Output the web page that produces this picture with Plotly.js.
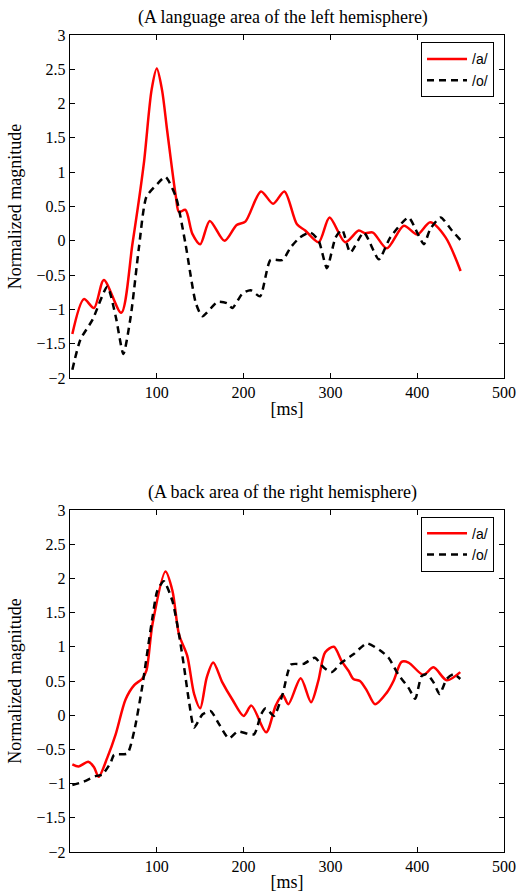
<!DOCTYPE html>
<html>
<head>
<meta charset="utf-8">
<script src="https://cdn.plot.ly/plotly-3.0.1.min.js"></script>
<style>html,body{margin:0;padding:0;background:#fff;}#chart{width:523px;height:892px;}</style>
</head>
<body>
<div id="chart"></div>
<script>
// ---- Data ----
var titleTop = "(A language area of the left hemisphere)";
var titleBottom = "(A back area of the right hemisphere)";
var seriesNames = ["/a/", "/o/"];
var xTicks = [100, 200, 300, 400, 500];
var yTicks = [-2, -1.5, -1, -0.5, 0, 0.5, 1, 1.5, 2, 2.5, 3];

var topA_x = [2.7,16,27.7,39,59,72,85,94,100,106,112,122,125.6,133,141,150,161,178,192,202,220,234,247,261.5,271,286.5,299,317,332.7,340,349,365,384.6,400,415,432.7,450];
var topA_y = [-1.36,-0.85,-0.98,-0.57,-1.05,-0.04,1.12,2.2,2.51,2.2,1.6,0.64,0.42,0.45,0.1,-0.05,0.29,0.0,0.23,0.28,0.72,0.54,0.72,0.24,0.15,-0.02,0.34,-0.02,0.15,0.11,0.12,-0.11,0.22,0.09,0.27,0.05,-0.44];

var topO_x = [2.7,12,26,43,52.6,61.5,70,79.5,88,100.6,110,122,133,145,152.5,170,181,187,198.6,208,219,231,245,254,265,277,286.5,296,306,313.5,323,338.5,355.8,369,390,400,407.7,415,427,440,450];
var topO_y = [-1.88,-1.44,-1.15,-0.67,-1.1,-1.65,-1.1,-0.09,0.64,0.83,0.93,0.64,-0.04,-0.91,-1.1,-0.89,-0.91,-0.98,-0.77,-0.72,-0.81,-0.28,-0.28,-0.1,0.05,0.12,0.0,-0.40,0.05,0.16,-0.17,0.12,-0.27,0.05,0.34,0.12,-0.05,0.17,0.34,0.15,0.01];

var botA_x = [2.7,10,21,27.7,33,43,52.6,64,74,83,88,95,110,118,125.6,135,143,150,157.5,165,175.5,187,200,209,226,237,245,251.5,265.8,277.7,286,294,304,313,320.8,326.5,334,342,351.5,365,372.7,382,390,407,418.8,434,449.6];
var botA_y = [-0.72,-0.75,-0.68,-0.76,-0.90,-0.62,-0.28,0.23,0.44,0.53,0.65,1.33,2.10,1.82,1.18,0.87,0.31,0.10,0.55,0.77,0.48,0.23,-0.01,0.14,-0.25,0.14,0.30,0.16,0.54,0.19,0.50,0.92,1.0,0.79,0.65,0.53,0.50,0.36,0.16,0.33,0.50,0.78,0.77,0.59,0.70,0.51,0.63];

var botO_x = [2.7,8.5,18,29.6,37,47,50.7,66,74,83,95,100.6,108,118,125.6,131,137,143,152.5,162,171.7,183,193,212,220,225.5,235,245,254.6,269,282,292,301.5,313,326.5,342,357,367,378,390,397.7,405,411,418.8,425.8,434,442,449.6];
var botO_y = [-1.02,-1.0,-0.96,-0.89,-0.87,-0.69,-0.58,-0.56,-0.23,0.40,1.43,1.82,1.96,1.67,1.18,0.74,0.21,-0.18,0.01,0.06,-0.13,-0.34,-0.24,-0.28,0.01,0.10,-0.01,0.31,0.74,0.75,0.84,0.70,0.63,0.77,0.89,1.05,0.95,0.84,0.60,0.40,0.24,0.57,0.60,0.48,0.31,0.53,0.60,0.53];

// ---- Styles ----
var serif = "Liberation Serif, Times New Roman, serif";
var sans = "Liberation Sans, Arial, sans-serif";
var redLine = {color: "#ff0000", width: 2.5, shape: "spline", smoothing: 0.8};
var blackLine = {color: "#000000", width: 2.5, dash: "7px,5px", shape: "spline", smoothing: 0.6};

var traces = [
  {x: topA_x, y: topA_y, name: seriesNames[0], mode: "lines", line: redLine, xaxis: "x", yaxis: "y", legend: "legend"},
  {x: topO_x, y: topO_y, name: seriesNames[1], mode: "lines", line: blackLine, xaxis: "x", yaxis: "y", legend: "legend"},
  {x: botA_x, y: botA_y, name: seriesNames[0], mode: "lines", line: redLine, xaxis: "x2", yaxis: "y2", legend: "legend2"},
  {x: botO_x, y: botO_y, name: seriesNames[1], mode: "lines", line: blackLine, xaxis: "x2", yaxis: "y2", legend: "legend2"}
];

function xa(anchor) {
  return {
    range: [0, 500], tickvals: xTicks, ticktext: xTicks.map(String),
    ticks: "inside", ticklen: 5, tickwidth: 1, tickcolor: "#000",
    showline: true, linecolor: "#000", linewidth: 1.2, mirror: "allticks",
    showgrid: false, zeroline: false, anchor: anchor,
    tickfont: {family: serif, size: 16, color: "#000"},
    title: {text: "[ms]", font: {family: serif, size: 18, color: "#000"}, standoff: 2}
  };
}
function ya(domain, anchor) {
  return {
    domain: domain, range: [-2, 3], tickvals: yTicks,
    ticks: "inside", ticklen: 5, tickwidth: 1, tickcolor: "#000",
    showline: true, linecolor: "#000", linewidth: 1.2, mirror: "allticks",
    showgrid: false, zeroline: false, anchor: anchor,
    tickfont: {family: serif, size: 16, color: "#000"},
    title: {text: "Normalized magnitude", font: {family: serif, size: 18, color: "#000"}, standoff: 10}
  };
}

var legendStyle = {
  xref: "paper", yref: "paper", xanchor: "right", yanchor: "top",
  bordercolor: "#000", borderwidth: 1, bgcolor: "#fff",
  font: {family: sans, size: 14, color: "#000"},
  tracegroupgap: 0, itemwidth: 40
};

var layout = {
  width: 523, height: 892,
  margin: {l: 70, r: 19, t: 35, b: 40},
  paper_bgcolor: "#fff", plot_bgcolor: "#fff",
  showlegend: true,
  xaxis: xa("y"),
  yaxis: ya([0.5802, 1], "x"),
  xaxis2: xa("y2"),
  yaxis2: ya([0, 0.4186], "x2"),
  legend: Object.assign({}, legendStyle, {x: 0.977, y: 0.991}),
  legend2: Object.assign({}, legendStyle, {x: 0.977, y: 0.4104}),
  annotations: [
    {text: titleTop, xref: "paper", yref: "paper", x: 0.49, y: 1.022, xanchor: "center", yanchor: "middle", showarrow: false, font: {family: serif, size: 18, color: "#000"}},
    {text: titleBottom, xref: "paper", yref: "paper", x: 0.49, y: 0.4406, xanchor: "center", yanchor: "middle", showarrow: false, font: {family: serif, size: 18, color: "#000"}}
  ]
};

Plotly.newPlot("chart", traces, layout, {displayModeBar: false, staticPlot: true});
</script>
</body>
</html>
